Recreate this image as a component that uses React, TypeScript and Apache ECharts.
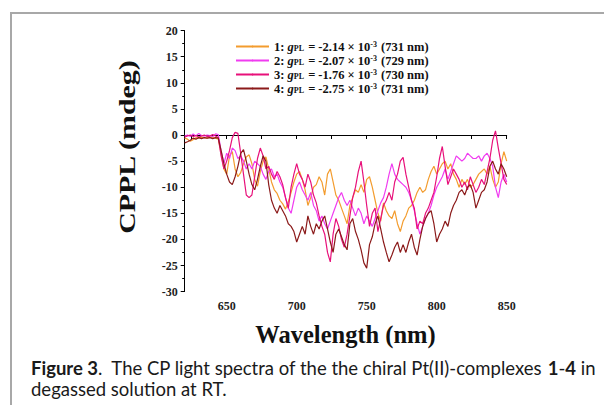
import React, { useEffect, useRef } from "react";
import * as echarts from "echarts";

// wavelength grid: 620 .. 850 nm, 2 nm step
const startNm = 620;
const stepNm = 2;

const series1 = [
  -0.6, -0.8, -1.2, -0.9, -0.5, -0.6, -0.4, -0.5, -0.6, -0.4, -0.5, -0.6, -0.8, -3.5, -6.5, -7.5,
  -4, -3.2, -6.5, -8, -7.2, -5.5, -4.2, -3.8, -5.5, -8.5, -9.8, -7, -5, -4.2, -6.5, -9,
  -10.5, -11.2, -12.5, -13.2, -14.2, -12.8, -11, -9, -7.5, -7, -8.5, -10.5, -13.5, -12, -10, -9.5,
  -8, -9, -11.5, -7.5, -6.5, -9, -11.5, -12.5, -14, -15.5, -17, -13.5, -12, -10.5, -11, -9.5,
  -11, -8.5, -8, -10, -12.5, -15, -16.5, -13, -14.5, -15.5, -16, -14.5, -17, -18.5, -16.5, -15.5,
  -14, -13.5, -12.5, -11, -10, -11, -10.5, -8.5, -7, -6, -7.5, -6.5, -5.5, -5, -6.5, -5.5,
  -7.5, -8.5, -10, -8.5, -9.5, -8.5, -10, -9.5, -8.5, -7.5, -7, -6.5, -7.5, -6, -8.5, -10,
  -9, -5.5, -3.2, -5,
];
const series2 = [
  -0.2, 0, -0.3, 0.2, -0.2, 0.3, -0.1, -0.2, 0, -0.1, -0.3, 0.2, 0.1, -3, -5.5, -3.5,
  -4.5, -2.5, -3, -4.5, -4, -5, -6.5, -5.5, -6.5, -5, -5.5, -6, -7.5, -8.5, -7, -6.5,
  -8, -7.5, -9, -10, -12, -14, -15, -12.5, -10, -9, -10.5, -11.5, -12.5, -11, -13.5, -14.5,
  -16.5, -15.5, -17, -18, -16.5, -15, -13.5, -12, -11, -12.5, -13.5, -12.5, -14, -15.5, -14, -15,
  -17, -15.5, -16.5, -17.5, -16, -14.5, -13, -12, -10, -7.5, -5.5, -7.5, -8.5, -9, -9.5, -10,
  -11, -12.5, -14.5, -17, -19, -17.5, -16, -15, -13.5, -11.5, -10, -9, -8, -6.5, -8.5, -7,
  -5.5, -4, -4.5, -5, -4.5, -3.5, -4, -4.5, -4.5, -4, -5, -4, -3.5, -4.5, -6, -10,
  -12, -9, -7.5, -9,
];
const series3 = [
  -0.4, -0.2, 0, -0.3, -0.1, -0.4, -0.2, 0, -0.3, -0.2, 0.1, -0.2, -0.5, -4, -6.5, -5,
  -3, -0.5, 0.5, 0.3, -3.5, -7.5, -11.5, -12, -11.5, -8, -4.5, -2.5, -4, -6.5, -6, -7.5,
  -8.5, -7, -8, -9.5, -12, -14, -10, -7.5, -5.5, -7.5, -8.5, -10, -7.5, -9, -11.5, -13,
  -15.5, -17.5, -19, -22.5, -24.3, -19, -16, -17.5, -20, -21.5, -19, -15.5, -12, -10, -7, -5,
  -9, -13.5, -17.5, -15, -14, -18.5, -16, -13.5, -12.5, -11, -12.5, -9, -7.5, -5, -4.3, -7.5,
  -10, -12.5, -14, -18, -16.5, -17, -15, -14, -12.5, -11, -8, -4.5, -2.2, -6, -9.5, -8,
  -6.5, -7.5, -8.5, -10, -9, -10.5, -8, -9.5, -11, -10, -8.5, -9.5, -7, -4.5, -1, 0.8,
  -2.5, -5.5, -8.5, -9.5,
];
const series4 = [
  -1.5, -1.3, -1, -0.6, -0.8, -0.5, -0.7, -0.5, -0.6, -0.5, -0.7, -0.5, -0.6, -3, -5.5, -7.5,
  -9, -9.5, -8, -6, -3.5, -2.8, -5, -7.5, -9.5, -10.5, -8.5, -6, -4, -5, -9.5, -12.5,
  -14, -15, -13.5, -14.5, -15.5, -17, -17.5, -18.5, -20.5, -19, -17.5, -19, -15.5, -17.5, -19, -17,
  -18, -16.5, -15.5, -18, -20.5, -22.5, -19, -18, -19.5, -21, -22, -17, -16, -18.5, -20, -22,
  -24.5, -25.5, -21, -19.5, -17, -15.5, -18, -20.5, -22.5, -24.3, -23, -21.5, -20.5, -22.5, -21, -22.5,
  -20.5, -19, -21.5, -23, -20, -17.5, -16, -15, -14.5, -17, -20.5, -19, -18, -16.5, -17.5, -15,
  -13.5, -12.5, -11, -10.5, -11.5, -10, -9.5, -11, -14, -12.5, -11, -10.5, -9, -6, -5, -6.5,
  -7.5, -5.5, -6.5, -8,
];

const seriesNames = ["1", "2", "3", "4"];
const gValues = ["-2.14", "-2.07", "-1.76", "-2.75"];
const peakNm = ["731", "729", "730", "731"];
const colors = ["#F39C2E", "#F03CF0", "#E8107A", "#8B1A1A"];
const xLabelValues = [650, 700, 750, 800, 850];
const xTickValues = [625, 650, 675, 700, 725, 750, 775, 800, 825, 850];

const toPairs = (vals: number[]) => vals.map((v, i) => [startNm + stepNm * i, v]);

export default function App() {
  const ref = useRef<HTMLDivElement>(null);
  useEffect(() => {
    if (!ref.current) return;
    const chart = echarts.init(ref.current, null, { renderer: "svg" });
    const serif = "Liberation Serif";
    const sans = "Lato";
    const all = [series1, series2, series3, series4];
    const legFs = 12.5;
    const lh = 12;
    chart.setOption({
      animation: false,
      backgroundColor: "#ffffff",
      grid: { left: 184.7, top: 30.6, width: 322, height: 261, containLabel: false },
      legend: {
        show: true,
        orient: "vertical",
        left: 235,
        top: 40,
        itemWidth: 33,
        itemHeight: 2,
        itemGap: 1,
        padding: 0,
        data: seriesNames,
        formatter: (name: string) => {
          const i = seriesNames.indexOf(name);
          return `{b|${name}: }{g|g}{sub|PL}{b| = ${gValues[i]} × 10}{sup|-3}{b| (${peakNm[i]} nm)}`;
        },
        textStyle: {
          fontFamily: serif,
          fontWeight: "bold",
          fontSize: legFs,
          color: "#111",
          lineHeight: lh,
          rich: {
            b: { fontFamily: serif, fontWeight: "bold", fontSize: legFs, color: "#111", lineHeight: lh },
            g: { fontFamily: serif, fontWeight: "bold", fontStyle: "italic", fontSize: legFs, color: "#111", lineHeight: lh },
            sub: { fontFamily: serif, fontWeight: "bold", fontSize: 8, color: "#111", verticalAlign: "bottom", lineHeight: 8, padding: [0, 1, 0, 0] },
            sup: { fontFamily: serif, fontWeight: "bold", fontSize: 8, color: "#111", verticalAlign: "top", lineHeight: 8, padding: [0, 1, 0, 0] },
          },
        },
      },
      xAxis: {
        type: "value",
        min: 620,
        max: 850,
        axisLine: { show: true, lineStyle: { color: "#000", width: 1 } },
        axisTick: { show: true, length: 4, customValues: xTickValues, lineStyle: { color: "#000" } },
        axisLabel: {
          customValues: xLabelValues,
          margin: 8,
          fontFamily: serif,
          fontWeight: "bold",
          fontSize: 12,
          color: "#222",
        },
        splitLine: { show: false },
      },
      yAxis: {
        type: "value",
        min: -30,
        max: 20,
        interval: 5,
        axisLine: { show: true, lineStyle: { color: "#000", width: 1 } },
        axisTick: { show: true, length: 4, lineStyle: { color: "#000" } },
        minorTick: { show: true, splitNumber: 2, length: 2.5, lineStyle: { color: "#000" } },
        axisLabel: {
          margin: 7,
          fontFamily: serif,
          fontWeight: "bold",
          fontSize: 12,
          color: "#222",
        },
        splitLine: { show: false },
      },
      series: all.map((vals, i) => ({
        name: seriesNames[i],
        type: "line",
        data: toPairs(vals),
        showSymbol: false,
        symbol: "none",
        lineStyle: { color: colors[i], width: 1.2 },
        itemStyle: { color: colors[i] },
        z: 2 + i,
      })),
      graphic: [
        { type: "line", shape: { x1: 10, y1: 13, x2: 604, y2: 13 }, style: { stroke: "#a8a8a8", lineWidth: 2 } },
        { type: "line", shape: { x1: 11, y1: 13, x2: 11, y2: 405 }, style: { stroke: "#a8a8a8", lineWidth: 2 } },
        {
          type: "text",
          x: 127,
          y: 147,
          rotation: Math.PI / 2,
          scaleX: 1.3,
          style: {
            text: "CPPL (mdeg)",
            fontFamily: serif,
            fontWeight: "bold",
            fontSize: 23,
            fill: "#111",
            align: "center",
            verticalAlign: "middle",
          },
        },
        {
          type: "text",
          x: 345.5,
          y: 334,
          style: {
            text: "Wavelength (nm)",
            fontFamily: serif,
            fontWeight: "bold",
            fontSize: 24.5,
            fill: "#111",
            align: "center",
            verticalAlign: "middle",
          },
        },
        {
          type: "text",
          x: 31,
          y: 368,
          style: {
            text: "{b|Figure 3}{n|.  The CP light spectra of the the chiral Pt(II)-complexes }{b|1}{n|-}{b|4}{n| in}",
            verticalAlign: "middle",
            rich: {
              b: { fontFamily: sans, fontWeight: "bold", fontSize: 18.5, fill: "#1a1a1a" },
              n: { fontFamily: sans, fontSize: 18.5, fill: "#1a1a1a" },
            },
          },
        },
        {
          type: "text",
          x: 31,
          y: 389,
          style: {
            text: "degassed solution at RT.",
            fontFamily: sans,
            fontSize: 18.5,
            fill: "#1a1a1a",
            verticalAlign: "middle",
          },
        },
      ],
    });
    return () => chart.dispose();
  }, []);
  return (
    <div
      ref={ref}
      style={{ position: "fixed", left: 0, top: 0, width: 604, height: 405, background: "#fff" }}
    />
  );
}
